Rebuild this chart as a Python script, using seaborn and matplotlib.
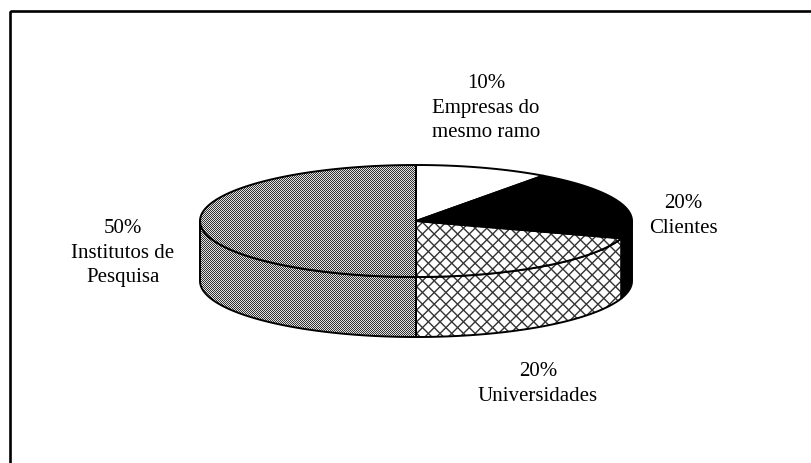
import numpy as np
import matplotlib
matplotlib.use("Agg")
import matplotlib.pyplot as plt
from matplotlib.patches import Polygon, Rectangle
from matplotlib.collections import LineCollection
import seaborn as sns

# Share of cooperation partners (%)
categories = ["Empresas do\nmesmo ramo", "Clientes", "Universidades", "Institutos de\nPesquisa"]
shares = [10, 20, 20, 50]
fills = ["white", "black", "cross", "dots"]

# label anchors (pixel coordinates) for each slice
label_pos = [(486, 108), (683, 216), (538, 384), (123, 253)]

sns.set_theme(style="white")
plt.rcParams["font.family"] = ["Liberation Serif", "DejaVu Serif"]

W, H = 811, 463
fig = plt.figure(figsize=(W / 100, H / 100), dpi=100)
ax = fig.add_axes([0, 0, 1, 1])
ax.set_xlim(0, W)
ax.set_ylim(H, 0)
ax.axis("off")

# tilted pie geometry
cx, cy, a, b, depth = 416, 221, 216, 56, 60


def rim(t0, t1, dy=0.0, n=160):
    t = np.radians(np.linspace(t0, t1, n))
    return np.column_stack([cx + a * np.sin(t), cy - b * np.cos(t) + dy])


ii, jj = np.indices((H, W))
checker = np.where((ii + jj) % 2 == 0, 0.2, 0.88)


def fill_region(xy, style, z):
    base_color = {"white": "white", "black": "black", "cross": "white", "dots": "#8a8a8a"}[style]
    base = Polygon(xy, closed=True, facecolor=base_color, edgecolor="none", zorder=z)
    ax.add_patch(base)
    if style == "dots":
        im = ax.imshow(checker, extent=(0, W, H, 0), cmap="gray", vmin=0, vmax=1,
                       interpolation="nearest", aspect="auto", zorder=z + 0.1)
        im.set_clip_path(base)
    elif style == "cross":
        step = 11.7
        segs = []
        for c in np.arange(-H - W, 2 * W + H, step):
            segs.append([(c, 0), (c - H, H)])
            segs.append([(c, 0), (c + H, H)])
        lc = LineCollection(segs, colors="#333333", linewidths=1.0, zorder=z + 0.1)
        ax.add_collection(lc)
        lc.set_clip_path(base)
    ax.add_patch(Polygon(xy, closed=True, fill=False, edgecolor="black",
                         linewidth=1.4, joinstyle="round", zorder=z + 0.5))


bounds = np.concatenate([[0], np.cumsum(shares)]) / sum(shares) * 360

# visible side walls (front half of the disc)
for t0, t1, style in zip(bounds[:-1], bounds[1:], fills):
    s0, s1 = max(t0, 90), min(t1, 270)
    if s1 <= s0:
        continue
    top = rim(s0, s1)
    bottom = rim(s0, s1, dy=depth)[::-1]
    fill_region(np.vstack([top, bottom]), style, 1)

# top faces
for t0, t1, style in zip(bounds[:-1], bounds[1:], fills):
    xy = np.vstack([[[cx, cy]], rim(t0, t1)])
    fill_region(xy, style, 3)

# labels
for (x, y), cat, v in zip(label_pos, categories, shares):
    ax.text(x, y, f"{v}%\n{cat}", ha="center", va="center", fontsize=15,
            linespacing=1.38, color="black", zorder=10)

# chart frame
ax.add_patch(Rectangle((9.5, 11.2), 1200, 1000, fill=False, edgecolor="black",
                       linewidth=1.9, zorder=20))

fig.savefig("out.png", dpi=100)
